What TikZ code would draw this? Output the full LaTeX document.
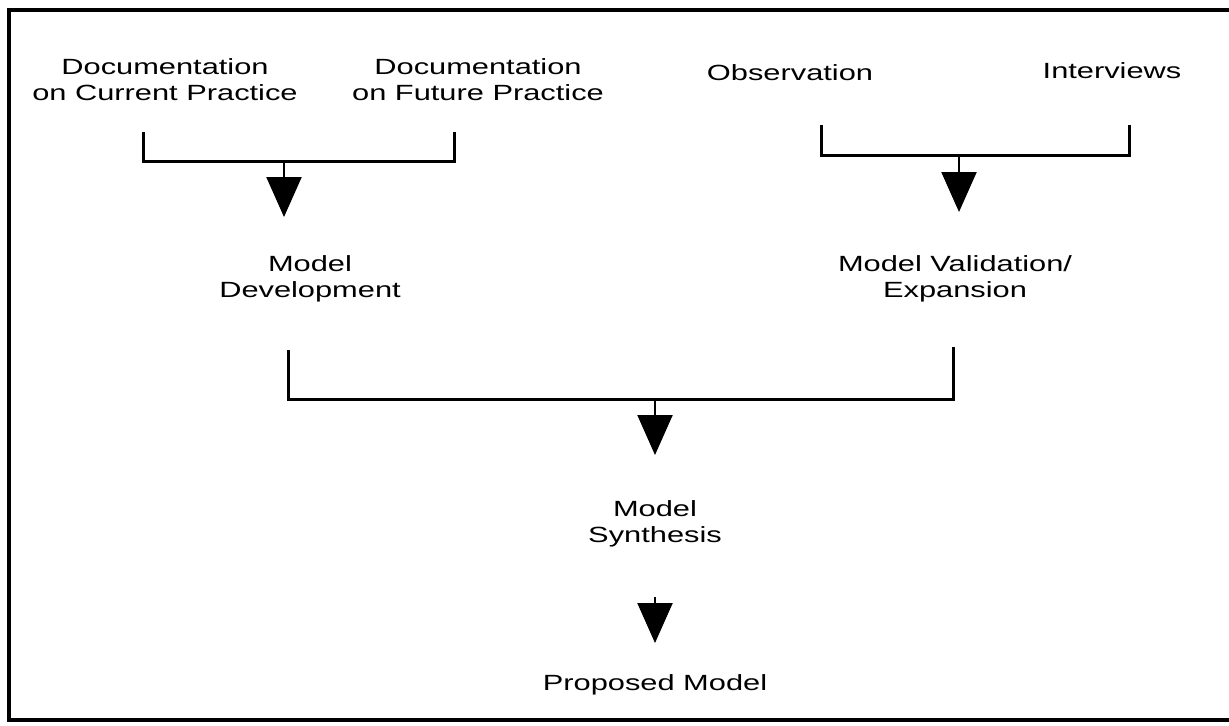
\documentclass[tikz,border=0pt]{standalone}
\usepackage{fontspec}
\setmainfont{Liberation Sans}[FakeStretch=1.4]
\usetikzlibrary{arrows.meta}
\begin{document}
\begin{tikzpicture}[x=0.5pt,y=-0.5pt,
  txt/.style={font=\fontsize{11}{13}\selectfont, align=center, inner sep=0pt},
  bar/.style={line width=1.5pt},
  feed/.style={line width=1.1pt, -{Triangle[length=20pt,width=17.5pt]}},
  frame/.style={line width=2pt}]
\useasboundingbox (0,0) rectangle (1229,725);

% outer frame (open on the right)
\draw[frame] (1240,10) -- (9,10) -- (9,720) -- (1240,720);

% sources
\node[txt] (doccur) at (165,80) {Documentation\\on Current Practice};
\node[txt] (docfut) at (478,80) {Documentation\\on Future Practice};
\node[txt,anchor=base] (obs) at (790,80) {Observation};
\node[txt,anchor=base] (intv) at (1112,78) {Interviews};

% intermediate models
\node[txt] (dev) at (310,279) {Model\\Development};
\node[txt] (val) at (955,279) {Model Validation/\\Expansion};
\node[txt] (syn) at (655,524) {Model\\Synthesis};
\node[txt,anchor=base] (prop) at (655,690) {Proposed Model};

% bracket points
\coordinate (a1) at (143,132); \coordinate (a2) at (143,161);
\coordinate (a3) at (454,161); \coordinate (a4) at (454,132);
\coordinate (aj) at (284,161); \coordinate (at) at (284,217);

\coordinate (b1) at (821,125); \coordinate (b2) at (821,155);
\coordinate (b3) at (1129,155); \coordinate (b4) at (1129,125);
\coordinate (bj) at (959,155); \coordinate (bt) at (959,212);

\coordinate (c1) at (288,350); \coordinate (c2) at (288,399);
\coordinate (c3) at (953,399); \coordinate (c4) at (953,347);
\coordinate (cj) at (655,399); \coordinate (ct) at (655,455);

\coordinate (dj) at (655,597); \coordinate (dt) at (655,643);

% brackets and arrows
\draw[bar] (a1) -- (a2) -- (a3) -- (a4);
\draw[feed] (aj) -- (at);
\draw[bar] (b1) -- (b2) -- (b3) -- (b4);
\draw[feed] (bj) -- (bt);
\draw[bar] (c1) -- (c2) -- (c3) -- (c4);
\draw[feed] (cj) -- (ct);
\draw[feed] (dj) -- (dt);
\end{tikzpicture}
\end{document}
